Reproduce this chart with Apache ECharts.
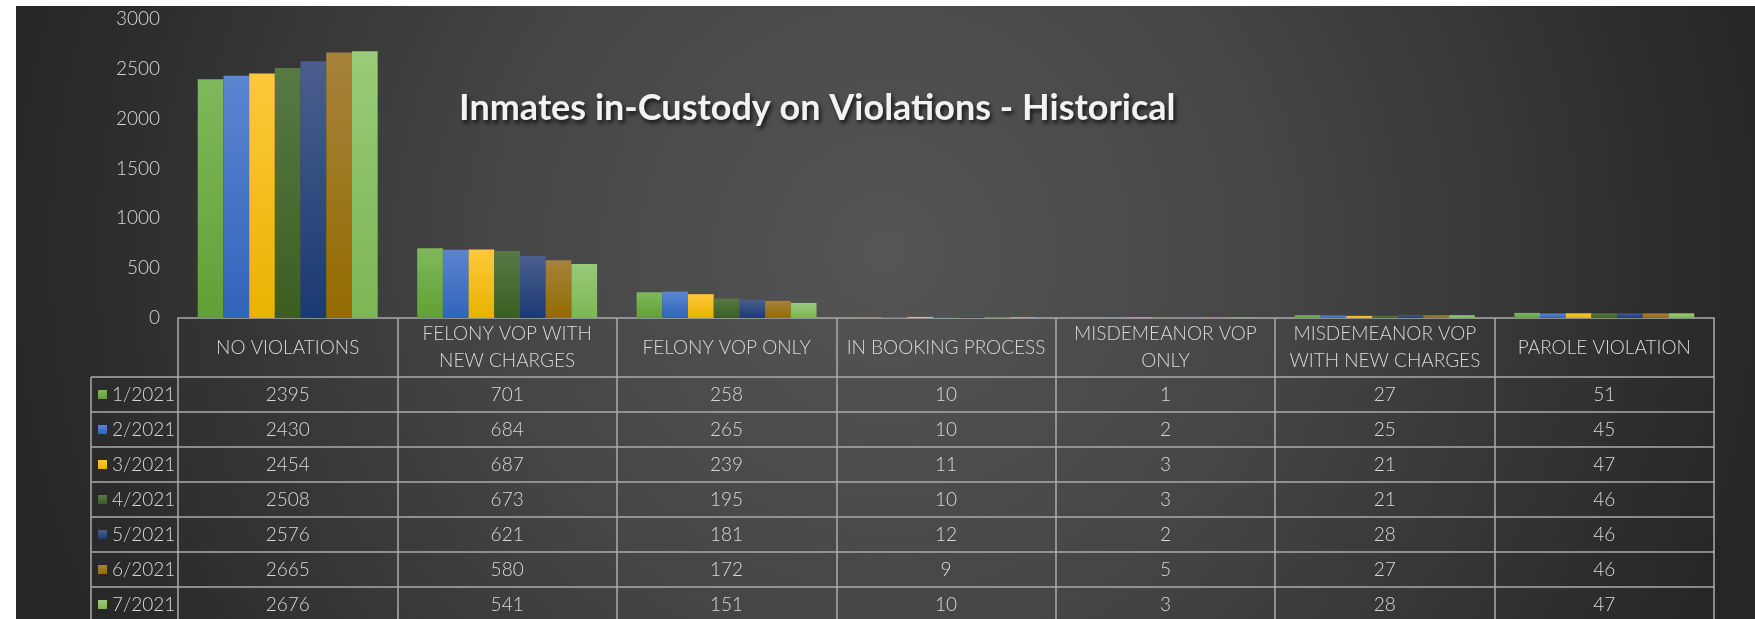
<!DOCTYPE html>
<html>
<head>
<meta charset="utf-8">
<script src="https://cdn.jsdelivr.net/npm/echarts@6/dist/echarts.min.js"></script>
<style>
    html, body { margin: 0; padding: 0; background: #fff; }
    #chart { width: 1755px; height: 619px; }
</style>
</head>
<body>
<div id="chart"></div>
<script>
const categories = [
    'NO VIOLATIONS',
    'FELONY VOP WITH\nNEW CHARGES',
    'FELONY VOP ONLY',
    'IN BOOKING PROCESS',
    'MISDEMEANOR VOP\nONLY',
    'MISDEMEANOR VOP\nWITH NEW CHARGES',
    'PAROLE VIOLATION',
]
const months = ['1/2021', '2/2021', '3/2021', '4/2021', '5/2021', '6/2021', '7/2021']
const jan = [2395, 701, 258, 10, 1, 27, 51]
const feb = [2430, 684, 265, 10, 2, 25, 45]
const mar = [2454, 687, 239, 11, 3, 21, 47]
const apr = [2508, 673, 195, 10, 3, 21, 46]
const may = [2576, 621, 181, 12, 2, 28, 46]
const jun = [2665, 580, 172, 9, 5, 27, 46]
const jul = [2676, 541, 151, 10, 3, 28, 47]
const rows = [jan, feb, mar, apr, may, jun, jul]
const yMin = 0
const yMax = 3000
const yStep = 500

// office-like palette, [top, bottom] of each bar gradient
const colors = [
    ['#7fb85c', '#62a034'],
    ['#5b85d0', '#3264bb'],
    ['#ffc83c', '#e8b300'],
    ['#577a45', '#3a5e22'],
    ['#4a5e8e', '#1b3a72'],
    ['#a6823c', '#946c00'],
    ['#98ca78', '#7cb656'],
]

// layout
const W = 1755
const H = 619
const gridLeft = 178
const gridRight = 1714
const axisY = 318
const headerH = 59
const rowH = 35
const boxLeft = 91
const lineColor = '#ababab'
const textColor = '#d9d9d9'
const font = 'Lato'

const chart = echarts.init(document.getElementById('chart'))

const tableAxes = rows.map((row, k) => ({
    type: 'category',
    gridIndex: 0,
    position: 'bottom',
    offset: headerH + rowH * k,
    data: row.map(String),
    axisLine: { show: true, onZero: false, lineStyle: { color: lineColor, width: 1.5 } },
    axisTick: { show: true, length: rowH, lineStyle: { color: lineColor, width: 1.5 } },
    axisLabel: {
        interval: 0,
        margin: rowH / 2,
        verticalAlign: 'middle',
        color: textColor,
        fontFamily: font,
        fontWeight: 300,
        fontSize: 19,
    },
}))

const boxLines = [{
    type: 'line',
    shape: { x1: boxLeft, y1: axisY + headerH, x2: boxLeft, y2: H },
    style: { stroke: lineColor, lineWidth: 1.5 },
}]
for (let k = 0; k <= rows.length; k++) {
    const y = axisY + headerH + rowH * k
    boxLines.push({
        type: 'line',
        shape: { x1: boxLeft, y1: y, x2: gridLeft, y2: y },
        style: { stroke: lineColor, lineWidth: 1.5 },
    })
}

const option = {
    animation: false,
    title: {
        text: 'Inmates in-Custody on Violations - Historical',
        left: 459,
        top: 90,
        padding: 0,
        textStyle: {
            color: '#f2f2f2',
            fontFamily: font,
            fontWeight: 'bold',
            fontSize: 36,
            textShadowColor: 'rgba(0,0,0,0.75)',
            textShadowBlur: 4,
            textShadowOffsetX: 2,
            textShadowOffsetY: 3,
        },
    },
    legend: {
        orient: 'vertical',
        left: 98,
        top: axisY + headerH,
        height: 300,
        padding: 0,
        itemGap: 0,
        itemWidth: 9,
        itemHeight: 9,
        icon: 'rect',
        selectedMode: false,
        data: months,
        textStyle: {
            color: textColor,
            fontFamily: font,
            fontWeight: 300,
            fontSize: 19,
            lineHeight: rowH,
        },
    },
    graphic: [
        {
            type: 'rect',
            z: -10,
            silent: true,
            shape: { x: 16, y: 6, width: W - 16, height: H - 6 },
            style: {
                fill: new echarts.graphic.RadialGradient(0.5, 0.4, 1.45, [
                    { offset: 0, color: '#555555' },
                    { offset: 0.45, color: '#454545' },
                    { offset: 1, color: '#262626' },
                ]),
            },
        },
        ...boxLines,
    ],
    grid: {
        left: gridLeft,
        right: W - gridRight,
        top: axisY - 299,
        bottom: H - axisY,
    },
    xAxis: [
        {
            type: 'category',
            position: 'bottom',
            data: categories,
            axisLine: { show: true, onZero: false, lineStyle: { color: lineColor, width: 1.5 } },
            axisTick: { show: true, length: headerH, lineStyle: { color: lineColor, width: 1.5 } },
            axisLabel: {
                interval: 0,
                margin: headerH / 2,
                verticalAlign: 'middle',
                lineHeight: 27,
                color: textColor,
                fontFamily: font,
                fontWeight: 300,
                fontSize: 19,
            },
        },
        ...tableAxes,
    ],
    yAxis: {
        type: 'value',
        min: yMin,
        max: yMax,
        interval: yStep,
        axisLine: { show: false },
        axisTick: { show: false },
        splitLine: { show: false },
        axisLabel: {
            margin: 18,
            formatter: (v) => String(v),
            color: textColor,
            fontFamily: font,
            fontWeight: 300,
            fontSize: 19,
        },
    },
    series: rows.map((row, i) => ({
        name: months[i],
        type: 'bar',
        xAxisIndex: 0,
        yAxisIndex: 0,
        data: row,
        barGap: '0%',
        barCategoryGap: '18%',
        itemStyle: {
            color: new echarts.graphic.LinearGradient(0, 0, 0, 1, [
                { offset: 0, color: colors[i][0] },
                { offset: 1, color: colors[i][1] },
            ]),
        },
    })),
    color: colors.map((c) => c[0]),
}

chart.setOption(option)
</script>
</body>
</html>
